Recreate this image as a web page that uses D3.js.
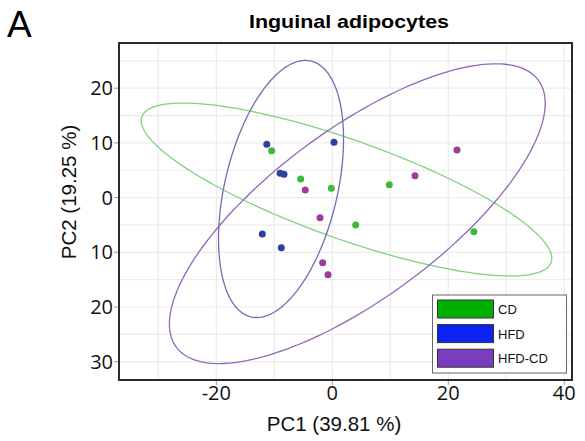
<!DOCTYPE html>
<html lang="en">
<head>
    <meta charset="UTF-8">
    <title>Inguinal adipocytes PCA</title>
    <script src="https://d3js.org/d3.v7.min.js"></script>
    <style>
        body { margin: 0; padding: 0; background: white; }
        svg { display: block; }
        .grid line { stroke: #ececec; stroke-width: 1.2; }
        .tick-label { font-family: 'Open Sans', sans-serif; font-size: 20px; fill: #111; }
        .axis-title { font-family: 'Liberation Sans', Arial, sans-serif; font-size: 20.5px; fill: #111; }
        .legend-text { font-family: 'Liberation Sans', Arial, sans-serif; font-size: 13px; fill: #111; }
    </style>
</head>
<body>
<svg width="585" height="441"></svg>
<script>
    // data
    const groups = ["CD", "HFD", "HFD-CD"];
    const cdPoints = [[-10.45, 8.57], [-5.45, 3.4], [-0.17, 1.7], [9.83, 2.36], [4.03, -5.0], [24.4, -6.23]];
    const hfdPoints = [[-11.3, 9.74], [0.29, 10.1], [-9.0, 4.44], [-8.33, 4.26], [-12.07, -6.65], [-8.79, -9.16]];
    const hfdCdPoints = [[21.5, 8.7], [14.26, 4.0], [-4.66, 1.39], [-2.12, -3.67], [-1.66, -11.9], [-0.74, -14.1]];
    // confidence ellipses: centre, spread along x / y, correlation
    const ellipses = [
        { group: "CD", mx: 2.45, my: 1.48, sx: 35.4, sy: 15.8, rho: -0.797 },
        { group: "HFD", mx: -8.84, my: 1.57, sx: 10.78, sy: 23.5, rho: 0.389 },
        { group: "HFD-CD", mx: 4.31, my: -2.94, sx: 32.4, sy: 27.4, rho: 0.736 }
    ];
    const xTicks = [-20, 0, 20, 40];
    const yTicks = [20, 10, 0, -10, -20, -30];
    const xGrid = [-30, -20, -10, 0, 10, 20, 30, 40];
    const yGrid = [25, 20, 15, 10, 5, 0, -5, -10, -15, -20, -25, -30];

    const pointColor = { "CD": "#3cb83c", "HFD": "#2e3f9c", "HFD-CD": "#9a3d9e" };
    const ellipseColor = { "CD": "#7fd17f", "HFD": "#6e6eb4", "HFD-CD": "#9466b8" };
    const legendColor = { "CD": "#00b000", "HFD": "#0a22f2", "HFD-CD": "#7b3dbf" };

    const svg = d3.select("svg");
    const plotL = 119, plotR = 572, plotT = 43, plotB = 380;

    const x = d3.scaleLinear().domain([-36.78, 41.33]).range([plotL, plotR]);
    const y = d3.scaleLinear().domain([-33.35, 28.26]).range([plotB, plotT]);

    // grid
    const grid = svg.append("g").attr("class", "grid");
    grid.selectAll(".gx").data(xGrid).enter().append("line")
        .attr("x1", d => x(d)).attr("x2", d => x(d))
        .attr("y1", plotT).attr("y2", plotB);
    grid.selectAll(".gy").data(yGrid).enter().append("line")
        .attr("x1", plotL).attr("x2", plotR)
        .attr("y1", d => y(d)).attr("y2", d => y(d));

    // ellipses
    const steps = d3.range(0, 2 * Math.PI + 0.001, Math.PI / 90);
    const line = d3.line().x(d => x(d[0])).y(d => y(d[1]));
    svg.selectAll(".ellipse").data(ellipses).enter().append("path")
        .attr("class", "ellipse")
        .attr("d", e => line(steps.map(t => [
            e.mx + e.sx * Math.cos(t),
            e.my + e.sy * (e.rho * Math.cos(t) + Math.sqrt(1 - e.rho * e.rho) * Math.sin(t))
        ])))
        .attr("fill", "none")
        .attr("stroke", e => ellipseColor[e.group])
        .attr("stroke-width", 1.3);

    // points
    const allPoints = [
        ...cdPoints.map(p => ({ group: "CD", x: p[0], y: p[1] })),
        ...hfdPoints.map(p => ({ group: "HFD", x: p[0], y: p[1] })),
        ...hfdCdPoints.map(p => ({ group: "HFD-CD", x: p[0], y: p[1] }))
    ];
    svg.selectAll(".pt").data(allPoints).enter().append("circle")
        .attr("cx", d => x(d.x)).attr("cy", d => y(d.y))
        .attr("r", 3.5)
        .attr("fill", d => pointColor[d.group]);

    // frame
    svg.append("rect")
        .attr("x", plotL).attr("y", plotT)
        .attr("width", plotR - plotL).attr("height", plotB - plotT)
        .attr("fill", "none").attr("stroke", "#2a2a2a").attr("stroke-width", 2);

    // ticks
    svg.selectAll(".xt").data(xTicks).enter().append("line")
        .attr("x1", d => x(d)).attr("x2", d => x(d))
        .attr("y1", plotB + 1).attr("y2", plotB + 5)
        .attr("stroke", "#999");
    svg.selectAll(".xl").data(xTicks).enter().append("text")
        .attr("class", "tick-label")
        .attr("x", d => x(d)).attr("y", 400)
        .attr("text-anchor", "middle")
        .text(d => d);
    svg.selectAll(".yt").data(yTicks).enter().append("line")
        .attr("x1", plotL - 5).attr("x2", plotL - 1)
        .attr("y1", d => y(d)).attr("y2", d => y(d))
        .attr("stroke", "#999");
    svg.selectAll(".yl").data(yTicks).enter().append("text")
        .attr("class", "tick-label")
        .attr("x", 113).attr("y", d => y(d) + 7)
        .attr("text-anchor", "end")
        .text(d => Math.abs(d));

    // axis titles
    svg.append("text").attr("class", "axis-title")
        .attr("x", 334).attr("y", 431)
        .attr("text-anchor", "middle")
        .text("PC1 (39.81 %)");
    svg.append("text").attr("class", "axis-title")
        .attr("transform", "translate(76,192) rotate(-90)")
        .attr("text-anchor", "middle")
        .text("PC2 (19.25 %)");

    // title and panel letter
    svg.append("text")
        .attr("x", 349).attr("y", 28)
        .attr("text-anchor", "middle")
        .attr("textLength", 200)
        .attr("lengthAdjust", "spacingAndGlyphs")
        .style("font-family", "'Liberation Sans', Arial, sans-serif")
        .style("font-size", "19px").style("font-weight", "bold")
        .text("Inguinal adipocytes");
    svg.append("text")
        .attr("x", 7).attr("y", 37)
        .style("font-family", "'Liberation Sans', Arial, sans-serif")
        .style("font-size", "37px")
        .text("A");

    // legend
    const legend = svg.append("g");
    legend.append("rect")
        .attr("x", 432.5).attr("y", 295)
        .attr("width", 134).attr("height", 78)
        .attr("fill", "white").attr("stroke", "#666").attr("stroke-width", 1);
    groups.forEach(function(g, i) {
        legend.append("rect")
            .attr("x", 437.5).attr("y", 300 + i * 24.6)
            .attr("width", 56).attr("height", 18)
            .attr("fill", legendColor[g]).attr("stroke", "#333").attr("stroke-width", 1);
        legend.append("text").attr("class", "legend-text")
            .attr("x", 498).attr("y", 314 + i * 24.6)
            .text(g);
    });
</script>
</body>
</html>
